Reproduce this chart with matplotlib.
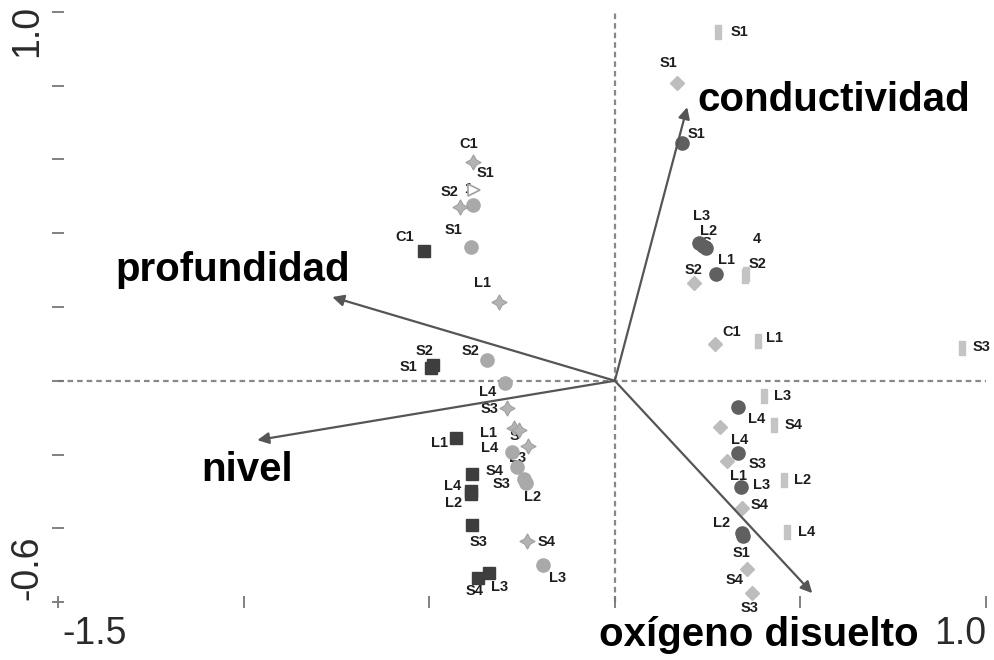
import numpy as np
import matplotlib
matplotlib.use('Agg')
import matplotlib.pyplot as plt
from matplotlib.path import Path

plt.rcParams['font.family'] = ['Liberation Sans', 'DejaVu Sans']

# site scores, one group per marker type
sq_dark_x = [-0.513, -0.494, -0.489, -0.427, -0.384, -0.387, -0.387, -0.384, -0.368, -0.338]
sq_dark_y = [0.352, 0.034, 0.042, -0.156, -0.253, -0.300, -0.308, -0.392, -0.536, -0.522]
sq_dark_lab = ['C1', 'S1', 'S2', 'L1', 'S4', 'L4', 'L2', 'S3', 'S4', 'L3']

circ_light_x = [-0.381, -0.387, -0.343, -0.295, -0.276, -0.263, -0.244, -0.238, -0.193]
circ_light_y = [0.476, 0.362, 0.056, -0.007, -0.194, -0.234, -0.267, -0.278, -0.500]
circ_light_lab = ['1', 'S1', 'S2', 'L4', 'L4', 'L3', 'S3', 'L2', 'L3']

star_x = [-0.381, -0.416, -0.311, -0.290, -0.271, -0.257, -0.233, -0.236]
star_y = [0.593, 0.471, 0.213, -0.074, -0.129, -0.134, -0.177, -0.435]
star_lab = ['C1', 'S2', 'L1', 'S3', 'L1', 'S', '', 'S4']

tri_x = [-0.379]
tri_y = [0.517]
tri_lab = ['S1']

circ_dark_x = [0.182, 0.228, 0.246, 0.238, 0.273, 0.333, 0.333, 0.341, 0.343, 0.346]
circ_dark_y = [0.645, 0.373, 0.360, 0.365, 0.289, -0.072, -0.196, -0.289, -0.413, -0.422]
circ_dark_lab = ['S1', 'L3', 'L2', 'S', 'L1', 'L4', 'S3', 'L3', 'L2', 'S1']

sq_light_x = [0.279, 0.352, 0.354, 0.387, 0.936, 0.403, 0.430, 0.457, 0.465]
sq_light_y = [0.946, 0.284, 0.289, 0.107, 0.088, -0.042, -0.120, -0.270, -0.411]
sq_light_lab = ['S1', 'S2', '4', 'L1', 'S3', 'L3', 'S4', 'L2', 'L4']

dia_x = [0.168, 0.214, 0.271, 0.284, 0.303, 0.343, 0.357, 0.370]
dia_y = [0.807, 0.265, 0.099, -0.126, -0.218, -0.346, -0.511, -0.576]
dia_lab = ['S1', 'S2', 'C1', 'L4', 'L1', 'S4', 'S4', 'S3']

# environmental vectors
env_names = ['conductividad', 'profundidad', 'nivel', 'oxígeno disuelto']
env_x = [0.195, -0.761, -0.963, 0.532]
env_y = [0.742, 0.227, -0.161, -0.576]

# label offsets in pixels (layout only)
sq_dark_off = [(-20, 14), (-23, 1), (-9, 14), (-17, -5), (22, 3), (-19, 5), (-18, -9), (6, -17), (-4, -13), (10, -14)]
circ_light_off = [(-5, 16), (-18, 17), (-17, 9), (-18, -9), (-23, 4), (0, 9), (-23, -5), (6, -14), (14, -13)]
star_off = [(-5, 18), (-11, 15), (-17, 19), (-18, -1), (-26, -5), (-5, -6), (0, 0), (19, -1)]
tri_off = [(11, 17)]
circ_dark_off = [(14, 9), (2, 27), (2, 17), (3, 3), (10, 14), (18, -12), (19, -11), (20, 2), (-21, 10), (-2, -17)]
sq_light_off = [(21, 0), (12, 12), (11, 35), (16, 3), (19, 1), (18, 0), (19, 0), (18, 0), (19, 0)]
dia_off = [(-9, 20), (-1, 13), (16, 12), (19, -13), (11, -15), (17, 3), (-13, -11), (-3, -15)]
env_lab_pos = [(0.222, 0.761, 'left'), (-1.028, 0.30, 'center'), (-0.990, -0.243, 'center'), (0.389, -0.690, 'center')]

fig = plt.figure(figsize=(9.95, 6.6), dpi=100)
ax = fig.add_axes([58 / 995, 1 - 602 / 660, 928 / 995, 590 / 660])
ax.set_xlim(-1.5, 1.0)
ax.set_ylim(-0.6, 1.0)
for s in ax.spines.values():
    s.set_visible(False)
ax.set_xticks(np.arange(-1.5, 1.01, 0.5))
ax.set_yticks(np.arange(-0.6, 1.01, 0.2))
ax.set_xticklabels([])
ax.set_yticklabels([])
ax.tick_params(direction='inout', length=8, width=1.3, color='#777777')

ax.axhline(0, color='#888888', lw=1.6, ls=(0, (2.5, 1.8)), zorder=1)
ax.axvline(0, color='#888888', lw=1.6, ls=(0, (2.5, 1.8)), zorder=1)

# tick labels only at the ends
tk = dict(fontsize=27, color='#2a2a2a', textcoords='offset pixels', annotation_clip=False)
ax.annotate('-1.5', (-1.5, -0.6), xytext=(4, -32), ha='left', va='center', **tk)
ax.annotate('1.0', (1.0, -0.6), xytext=(0, -32), ha='right', va='center', **tk)
ax.annotate('1.0', (-1.5, 1.0), xytext=(-31, 7), ha='center', va='top', rotation=90, **tk)
ax.annotate('-0.6', (-1.5, -0.6), xytext=(-31, 2), ha='center', va='bottom', rotation=90, **tk)

rect = Path([(-0.5, -1), (0.5, -1), (0.5, 1), (-0.5, 1), (-0.5, -1)],
            [Path.MOVETO, Path.LINETO, Path.LINETO, Path.LINETO, Path.CLOSEPOLY])

groups = [
    (sq_dark_x, sq_dark_y, sq_dark_lab, sq_dark_off, dict(marker='s', ms=8.5, mfc='#3e3e3e', mec='#3e3e3e')),
    (circ_light_x, circ_light_y, circ_light_lab, circ_light_off, dict(marker='o', ms=9.5, mfc='#a9a9a9', mec='#a9a9a9')),
    (star_x, star_y, star_lab, star_off, dict(marker=(4, 1, 0), ms=11, mfc='#b3b3b3', mec='#a0a0a0', mew=0.8)),
    (tri_x, tri_y, tri_lab, tri_off, dict(marker='>', ms=8, mfc='white', mec='#a0a0a0', mew=1.2)),
    (circ_dark_x, circ_dark_y, circ_dark_lab, circ_dark_off, dict(marker='o', ms=9.5, mfc='#606060', mec='#606060')),
    (sq_light_x, sq_light_y, sq_light_lab, sq_light_off, dict(marker=rect, ms=10, mfc='#c4c4c4', mec='#c4c4c4')),
    (dia_x, dia_y, dia_lab, dia_off, dict(marker='D', ms=7.5, mfc='#bdbdbd', mec='#bdbdbd')),
]

for gx, gy, glab, goff, style in groups:
    ax.plot(gx, gy, ls='none', zorder=4, clip_on=False, **style)
    for x, y, lab, off in zip(gx, gy, glab, goff):
        if lab:
            ax.annotate(lab, (x, y), xytext=off, textcoords='offset pixels', ha='center', va='center',
                        fontsize=10.5, fontweight='bold', color='#1e1e1e', zorder=3, annotation_clip=False)

for name, x, y, (lx, ly, ha) in zip(env_names, env_x, env_y, env_lab_pos):
    ax.annotate('', xy=(x, y), xytext=(0, 0),
                arrowprops=dict(arrowstyle='-|>', color='#555555', lw=1.6, mutation_scale=17,
                                shrinkA=0, shrinkB=0), zorder=5)
    ax.text(lx, ly, name, ha=ha, va='center', fontsize=29, fontweight='bold', color='black', zorder=6)

plt.savefig('out.png', dpi=100)
